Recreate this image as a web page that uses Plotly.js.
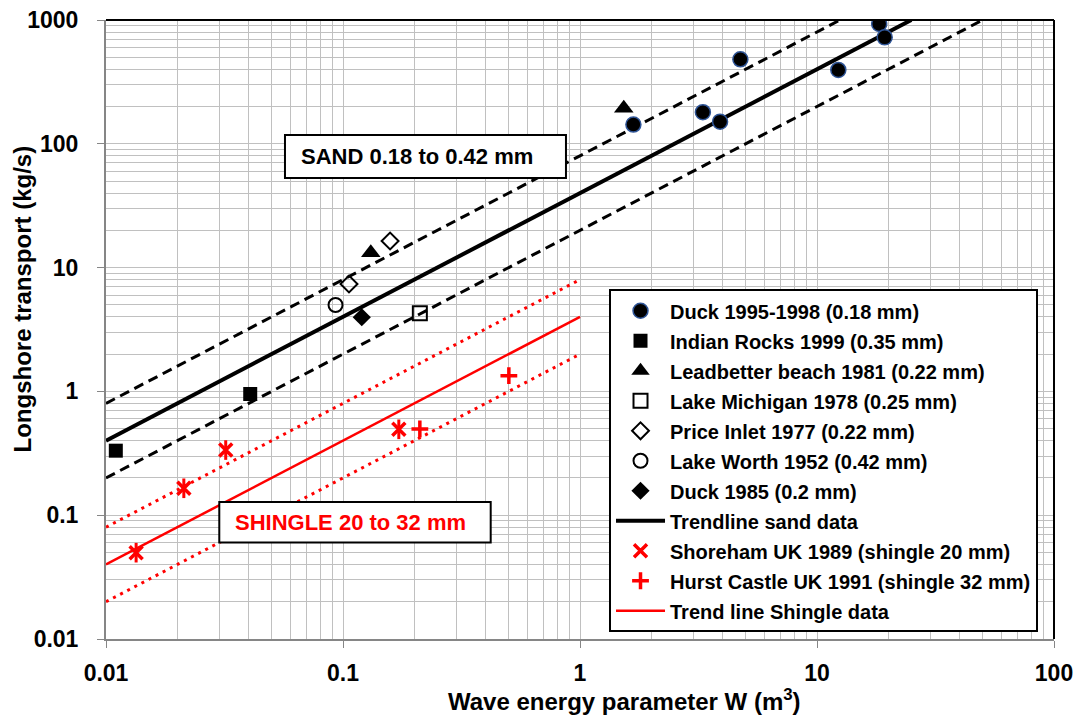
<!DOCTYPE html>
<html>
<head>
<meta charset="utf-8">
<script src="https://cdn.plot.ly/plotly-3.0.1.min.js"></script>
<style>html,body{margin:0;padding:0;background:#fff;}#chart{width:1078px;height:723px;}</style>
</head>
<body>
<div id="chart"></div>
<script>
// ---- data ----
const duckX = [18.3, 19.3, 4.75, 12.3, 3.30, 3.90, 1.68];
const duckY = [929, 724, 481, 395, 180, 151, 143];
const indianX = [0.0110, 0.0406];
const indianY = [0.332, 0.953];
const leadX = [1.53, 0.131];
const leadY = [194, 13.2];
const michX = [0.211];
const michY = [4.27];
const priceX = [0.158, 0.106];
const priceY = [16.4, 7.37];
const worthX = [0.093];
const worthY = [4.99];
const duck85X = [0.12];
const duck85Y = [3.97];
const shoreX = [0.0134, 0.0213, 0.032, 0.172];
const shoreY = [0.0498, 0.165, 0.336, 0.494];
const hurstX = [0.211, 0.501];
const hurstY = [0.497, 1.34];

// trend lines (Q = c * W)
const sandTrendX = [0.01, 25];
const sandTrendY = [0.4, 1000];
const sandUpperX = [0.01, 12.5];
const sandUpperY = [0.8, 1000];
const sandLowerX = [0.01, 50];
const sandLowerY = [0.2, 1000];
const shingleTrendX = [0.01, 1];
const shingleTrendY = [0.04, 4];
const shingleUpperX = [0.01, 1];
const shingleUpperY = [0.08, 8];
const shingleLowerX = [0.01, 1];
const shingleLowerY = [0.02, 2];

const xTickVals = [0.01, 0.1, 1, 10, 100];
const xTickText = ['0.01', '0.1', '1', '10', '100'];
const yTickVals = [0.01, 0.1, 1, 10, 100, 1000];
const yTickText = ['0.01', '0.1', '1', '10', '100', '1000'];

const RED = '#ff0000';
const traces = [
  {x: sandUpperX, y: sandUpperY, mode: 'lines', line: {color: '#000', width: 3, dash: '10px,6px'}, showlegend: false, hoverinfo: 'skip'},
  {x: sandLowerX, y: sandLowerY, mode: 'lines', line: {color: '#000', width: 3, dash: '10px,6px'}, showlegend: false, hoverinfo: 'skip'},
  {x: sandTrendX, y: sandTrendY, mode: 'lines', name: 'Trendline sand data', line: {color: '#000', width: 4}, legendrank: 8, legendgroup: 'g8'},
  {x: shingleUpperX, y: shingleUpperY, mode: 'lines', line: {color: RED, width: 3, dash: '3px,5px'}, showlegend: false, hoverinfo: 'skip'},
  {x: shingleLowerX, y: shingleLowerY, mode: 'lines', line: {color: RED, width: 3, dash: '3px,5px'}, showlegend: false, hoverinfo: 'skip'},
  {x: shingleTrendX, y: shingleTrendY, mode: 'lines', name: 'Trend line Shingle data', line: {color: RED, width: 2.5}, legendrank: 11, legendgroup: 'g11'},
  {x: duckX, y: duckY, mode: 'markers', name: 'Duck 1995-1998 (0.18 mm)', marker: {symbol: 'circle', size: 15, color: '#000', line: {color: '#2f5597', width: 1.5}}, legendrank: 1, legendgroup: 'g1'},
  {x: indianX, y: indianY, mode: 'markers', name: 'Indian Rocks 1999 (0.35 mm)', marker: {symbol: 'square', size: 14, color: '#000'}, legendrank: 2, legendgroup: 'g2'},
  {x: leadX, y: leadY, mode: 'markers', name: 'Leadbetter beach 1981 (0.22 mm)', marker: {symbol: 'triangle-up', size: 17, color: '#000'}, legendrank: 3, legendgroup: 'g3'},
  {x: michX, y: michY, mode: 'markers', name: 'Lake Michigan 1978 (0.25 mm)', marker: {symbol: 'square-open', size: 14, color: '#000', line: {width: 2}}, legendrank: 4, legendgroup: 'g4'},
  {x: priceX, y: priceY, mode: 'markers', name: 'Price Inlet 1977 (0.22 mm)', marker: {symbol: 'diamond-open', size: 13, color: '#000', line: {width: 2}}, legendrank: 5, legendgroup: 'g5'},
  {x: worthX, y: worthY, mode: 'markers', name: 'Lake Worth 1952 (0.42 mm)', marker: {symbol: 'circle-open', size: 14, color: '#000', line: {width: 2}}, legendrank: 6, legendgroup: 'g6'},
  {x: duck85X, y: duck85Y, mode: 'markers', name: 'Duck 1985 (0.2 mm)', marker: {symbol: 'diamond', size: 14, color: '#000'}, legendrank: 7, legendgroup: 'g7'},
  {x: shoreX, y: shoreY, mode: 'markers', name: 'Shoreham UK 1989 (shingle 20 mm)', marker: {symbol: 'x-thin-open', size: 13, color: RED, line: {color: RED, width: 3.5}}, legendrank: 9, legendgroup: 'g9'},
  {x: shoreX, y: shoreY, mode: 'markers', showlegend: false, hoverinfo: 'skip', marker: {symbol: 'line-ns-open', size: 14, color: RED, line: {color: RED, width: 3}}, legendgroup: 'g9'},
  {x: hurstX, y: hurstY, mode: 'markers', name: 'Hurst Castle UK 1991 (shingle 32 mm)', marker: {symbol: 'cross-thin-open', size: 12, color: RED, line: {color: RED, width: 3.5}}, legendrank: 10, legendgroup: 'g10'}
];

const FONT = 'Liberation Sans, Arial, sans-serif';
const GRID = '#c0c0c0';
const AXIS = '#868686';

const layout = {
  width: 1078, height: 723,
  margin: {l: 106, r: 24, t: 20, b: 84},
  paper_bgcolor: '#fff', plot_bgcolor: '#fff',
  font: {family: FONT, color: '#000'},
  showlegend: true,
  legend: {
    x: 0.5306, y: 0.565, xanchor: 'left', yanchor: 'top',
    bgcolor: '#fff', bordercolor: '#000', borderwidth: 2,
    font: {family: FONT, size: 20, color: '#000', weight: 'bold'},
    tracegroupgap: 1, itemwidth: 49
  },
  xaxis: {
    type: 'log', range: [-2, 2],
    tickvals: xTickVals, ticktext: xTickText,
    tickfont: {family: FONT, size: 23, weight: 'bold'},
    ticks: 'outside', ticklen: 7, tickcolor: AXIS, tickwidth: 1,
    showline: true, linecolor: AXIS, linewidth: 2,
    showgrid: true, gridcolor: GRID, gridwidth: 1,
    minor: {dtick: 'D1', showgrid: true, gridcolor: GRID, gridwidth: 1, ticks: ''},
    zeroline: false, ticklabelstandoff: 5
  },
  yaxis: {
    type: 'log', range: [-2, 3],
    tickvals: yTickVals, ticktext: yTickText,
    tickfont: {family: FONT, size: 23, weight: 'bold'},
    ticks: 'outside', ticklen: 7, tickcolor: AXIS, tickwidth: 1,
    showline: true, linecolor: AXIS, linewidth: 2,
    showgrid: true, gridcolor: GRID, gridwidth: 1,
    minor: {dtick: 'D1', showgrid: true, gridcolor: GRID, gridwidth: 1, ticks: ''},
    zeroline: false, ticklabelstandoff: 14
  },
  shapes: [
    {type: 'line', xref: 'paper', yref: 'paper', x0: 0, x1: 1, y0: 1, y1: 1, line: {color: '#000', width: 2}},
    {type: 'line', xref: 'paper', yref: 'paper', x0: 1, x1: 1, y0: 0, y1: 1, line: {color: '#000', width: 2}},
    // SAND label box
    {type: 'rect', xref: 'paper', yref: 'paper', x0: 0.1888, x1: 0.4852, y0: 0.7447, y1: 0.8142, fillcolor: '#fff', line: {color: '#000', width: 2}},
    // SHINGLE label box
    {type: 'rect', xref: 'paper', yref: 'paper', x0: 0.1195, x1: 0.4058, y0: 0.1560, y1: 0.2213, fillcolor: '#fff', line: {color: '#000', width: 2}}
  ],
  annotations: [
    {xref: 'paper', yref: 'paper', x: 0.547, y: -0.0985, xanchor: 'center', yanchor: 'middle', showarrow: false,
     text: 'Wave energy parameter W (m<sup>3</sup>)', font: {family: FONT, size: 24, weight: 'bold'}},
    {xref: 'paper', yref: 'paper', x: -0.0876, y: 0.55, xanchor: 'center', yanchor: 'middle', showarrow: false, textangle: -90,
     text: 'Longshore transport (kg/s)', font: {family: FONT, size: 24, weight: 'bold'}},
    {xref: 'paper', yref: 'paper', x: 0.328, y: 0.779, xanchor: 'center', yanchor: 'middle', showarrow: false,
     text: 'SAND 0.18 to 0.42 mm', font: {family: FONT, size: 22, weight: 'bold', color: '#000'}},
    {xref: 'paper', yref: 'paper', x: 0.2584, y: 0.1885, xanchor: 'center', yanchor: 'middle', showarrow: false,
     text: 'SHINGLE 20 to 32 mm', font: {family: FONT, size: 22, weight: 'bold', color: RED}}
  ]
};

Plotly.newPlot('chart', traces, layout, {displayModeBar: false, staticPlot: true});
</script>
</body>
</html>
